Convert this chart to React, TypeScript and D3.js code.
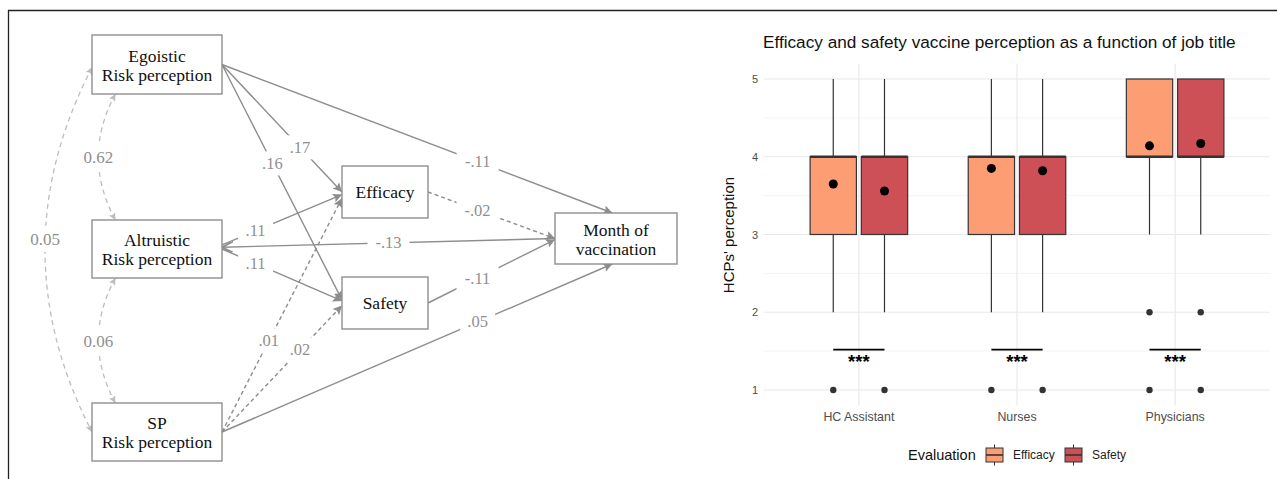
import React from 'react'
import * as d3 from 'd3'

// ---------- left panel: path model ----------
const nodeIds = ['ego', 'alt', 'sp', 'eff', 'saf', 'month']
const nodeLabels = [
    ['Egoistic', 'Risk perception'],
    ['Altruistic', 'Risk perception'],
    ['SP', 'Risk perception'],
    ['Efficacy'],
    ['Safety'],
    ['Month of', 'vaccination']
]

const pathFrom = ['ego', 'ego', 'ego', 'alt', 'alt', 'month', 'eff', 'saf', 'sp', 'sp', 'sp']
const pathTo = ['month', 'eff', 'saf', 'eff', 'saf', 'alt', 'month', 'month', 'month', 'eff', 'saf']
const pathCoef = ['-.11', '.17', '.16', '.11', '.11', '-.13', '-.02', '-.11', '.05', '.01', '.02']
const pathSignificant = [true, true, true, true, true, true, false, true, true, false, false]

const corrFrom = ['ego', 'alt', 'ego']
const corrTo = ['alt', 'sp', 'sp']
const corrCoef = ['0.62', '0.06', '0.05']

// ---------- right panel: boxplot ----------
const jobTitles = ['HC Assistant', 'Nurses', 'Physicians']
const evaluations = ['Efficacy', 'Safety']
// [lower whisker, q1, median, q3, upper whisker]
const efficacyStats = [[2, 3, 4, 4, 5], [2, 3, 4, 4, 5], [3, 4, 4, 5, 5]]
const safetyStats = [[2, 3, 4, 4, 5], [2, 3, 4, 4, 5], [3, 4, 4, 5, 5]]
const efficacyMeans = [3.65, 3.85, 4.14]
const safetyMeans = [3.56, 3.82, 4.17]
const efficacyOutliers = [[1], [1], [1, 2]]
const safetyOutliers = [[1], [1], [1, 2]]
const significance = ['***', '***', '***']
const significanceLevel = 1.5
const yTicks = [1, 2, 3, 4, 5]
const yMinor = [1.5, 2.5, 3.5, 4.5]

// layout of the diagram (x, y, w, h)
const boxLayout: Record<string, number[]> = {
    ego: [92, 35, 130, 59],
    alt: [92, 220, 130, 58],
    sp: [92, 403, 130, 58],
    eff: [342, 166, 86, 52],
    saf: [342, 277, 86, 52],
    month: [555, 213, 122, 51]
}
// anchors: [fromSide, fromFrac, toSide, toFrac, labelT]
const pathAnchors: any[] = [
    ['r', 0.5, 't', 0.47, 0.655],
    ['r', 0.5, 'l', 0.5, 0.65],
    ['r', 0.5, 'l', 0.44, 0.42],
    ['r', 0.43, 'l', 0.55, 0.28],
    ['r', 0.5, 'l', 0.46, 0.28],
    ['l', 0.5, 'r', 0.47, 0.5],
    ['r', 0.5, 'l', 0.5, 0.39],
    ['r', 0.5, 'l', 0.52, 0.39],
    ['r', 0.5, 'b', 0.47, 0.655],
    ['r', 0.5, 'l', 0.62, 0.39],
    ['r', 0.5, 'l', 0.55, 0.65]
]
const corrAnchors: any[] = [
    ['b', 0.18, 't', 0.18, 34, 0.5],
    ['b', 0.18, 't', 0.18, 34, 0.5],
    ['l', 0.55, 'l', 0.5, 94, 0.47]
]

const anchor = (id: string, side: string, f: number): [number, number] => {
    const [x, y, w, h] = boxLayout[id]
    if (side === 'r') return [x + w, y + h * f]
    if (side === 'l') return [x, y + h * f]
    if (side === 't') return [x + w * f, y]
    return [x + w * f, y + h]
}

const SERIF = '"Liberation Serif", "Times New Roman", serif'
const SANS = '"Liberation Sans", Arial, Helvetica, sans-serif'
const lineGray = '#8d8d8d'
const corrGray = '#bdbdbd'

const PathDiagram: React.FC = () => {
    return (
        <g>
            <defs>
                <marker id="arr" viewBox="0 0 10 10" refX="10" refY="5" markerWidth="11" markerHeight="9" markerUnits="userSpaceOnUse" orient="auto">
                    <path d="M0,0 L10,5 L0,10 L2,5 z" fill={lineGray} />
                </marker>
                <marker id="chev" viewBox="0 0 10 10" refX="10" refY="5" markerWidth="11" markerHeight="11" markerUnits="userSpaceOnUse" orient="auto">
                    <path d="M0,0 L10,5 L0,10" fill="none" stroke={lineGray} strokeWidth="1.6" />
                </marker>
                <marker id="carr" viewBox="0 0 10 10" refX="10" refY="5" markerWidth="8" markerHeight="7" markerUnits="userSpaceOnUse" orient="auto-start-reverse">
                    <path d="M0,0 L10,5 L0,10 L2,5 z" fill={corrGray} />
                </marker>
            </defs>

            {corrFrom.map((from, i) => {
                const [s1, f1, s2, f2, bulge, lt] = corrAnchors[i]
                const p0 = anchor(from, s1, f1)
                const p2 = anchor(corrTo[i], s2, f2)
                const c: [number, number] = [(p0[0] + p2[0]) / 2 - bulge, (p0[1] + p2[1]) / 2]
                const p = d3.path()
                p.moveTo(p0[0], p0[1])
                p.quadraticCurveTo(c[0], c[1], p2[0], p2[1])
                const t = lt
                const lx = (1 - t) * (1 - t) * p0[0] + 2 * (1 - t) * t * c[0] + t * t * p2[0]
                const ly = (1 - t) * (1 - t) * p0[1] + 2 * (1 - t) * t * c[1] + t * t * p2[1]
                return (
                    <g key={'c' + i}>
                        <path d={p.toString()} fill="none" stroke={corrGray} strokeWidth={1.3} strokeDasharray="5,4" markerStart="url(#carr)" markerEnd="url(#carr)" />
                        <rect x={lx - 20} y={ly - 13} width={40} height={26} fill="#fff" />
                        <text x={lx} y={ly + 6} textAnchor="middle" fontFamily={SERIF} fontSize={17} fill="#8f8f8f">{corrCoef[i]}</text>
                    </g>
                )
            })}

            {pathFrom.map((from, i) => {
                const [s1, f1, s2, f2, lt] = pathAnchors[i]
                const a = anchor(from, s1, f1)
                const b = anchor(pathTo[i], s2, f2)
                const lx = a[0] + (b[0] - a[0]) * lt
                const ly = a[1] + (b[1] - a[1]) * lt
                const w = pathCoef[i].length * 7 + 14
                return (
                    <g key={'p' + i}>
                        <line x1={a[0]} y1={a[1]} x2={b[0]} y2={b[1]} stroke={lineGray} strokeWidth={1.4}
                            strokeDasharray={pathSignificant[i] ? undefined : '4,3'}
                            markerEnd={pathTo[i] === 'alt' ? 'url(#chev)' : 'url(#arr)'} />
                        <rect x={lx - w / 2} y={ly - 12} width={w} height={24} fill="#fff" />
                        <text x={lx} y={ly + 5.5} textAnchor="middle" fontFamily={SERIF} fontSize={16.5} fill="#8f8f8f">{pathCoef[i]}</text>
                    </g>
                )
            })}

            {nodeIds.map((id, i) => {
                const [x, y, w, h] = boxLayout[id]
                const lines = nodeLabels[i]
                const cx = x + w / 2
                const cy = y + h / 2
                return (
                    <g key={id}>
                        <rect x={x} y={y} width={w} height={h} fill="#fff" stroke="#8f8f8f" strokeWidth={1.4} />
                        {lines.map((l, j) => (
                            <text key={j} x={cx} y={lines.length === 1 ? cy + 6 : cy - 3 + j * 19} textAnchor="middle" fontFamily={SERIF} fontSize={17.5} fill="#111">{l}</text>
                        ))}
                    </g>
                )
            })}
        </g>
    )
}

const effColor = '#FC9D73'
const safColor = '#CC5056'
const dark = '#333333'

const BoxPlot: React.FC = () => {
    const y = d3.scaleLinear().domain([1, 5]).range([390, 79])
    const x = d3.scalePoint().domain(jobTitles).range([764, 1270]).padding(0.6)
    const step = x.step()
    const off = 0.162 * step
    const bw = 0.293 * step
    const panelTop = y(5.2)
    const panelBottom = y(0.8)
    const [left, right] = x.range()

    const series = [
        { stats: efficacyStats, means: efficacyMeans, outliers: efficacyOutliers, color: effColor, dx: -off },
        { stats: safetyStats, means: safetyMeans, outliers: safetyOutliers, color: safColor, dx: off }
    ]

    return (
        <g fontFamily={SANS}>
            {yMinor.map(v => (
                <line key={'m' + v} x1={left} x2={right} y1={y(v)} y2={y(v)} stroke="#f0f0f0" strokeWidth={0.8} />
            ))}
            {yTicks.map(v => (
                <line key={'g' + v} x1={left} x2={right} y1={y(v)} y2={y(v)} stroke="#e8e8e8" strokeWidth={1.1} />
            ))}
            {jobTitles.map(c => (
                <line key={'v' + c} x1={x(c)} x2={x(c)} y1={panelTop} y2={panelBottom} stroke="#e8e8e8" strokeWidth={1.1} />
            ))}

            {series.map((s, si) =>
                jobTitles.map((c, ci) => {
                    const cx = (x(c) as number) + s.dx
                    const [lo, q1, med, q3, hi] = s.stats[ci]
                    return (
                        <g key={si + c}>
                            <line x1={cx} x2={cx} y1={y(q3)} y2={y(hi)} stroke={dark} strokeWidth={1.2} />
                            <line x1={cx} x2={cx} y1={y(q1)} y2={y(lo)} stroke={dark} strokeWidth={1.2} />
                            <rect x={cx - bw / 2} y={y(q3)} width={bw} height={y(q1) - y(q3)} fill={s.color} stroke={dark} strokeWidth={1.2} />
                            <line x1={cx - bw / 2} x2={cx + bw / 2} y1={y(med)} y2={y(med)} stroke={dark} strokeWidth={2.6} />
                            {s.outliers[ci].map(o => (
                                <circle key={o} cx={cx} cy={y(o)} r={3.2} fill={dark} />
                            ))}
                            <circle cx={cx} cy={y(s.means[ci])} r={4.5} fill="#000" />
                        </g>
                    )
                })
            )}

            {jobTitles.map((c, ci) => (
                <g key={'s' + c}>
                    <line x1={(x(c) as number) - off} x2={(x(c) as number) + off} y1={y(significanceLevel) - 1.5} y2={y(significanceLevel) - 1.5} stroke="#000" strokeWidth={1.6} />
                    <text x={x(c)} y={368} textAnchor="middle" fontSize={18.5} fontWeight="bold" fill="#000">{significance[ci]}</text>
                </g>
            ))}

            {yTicks.map(v => (
                <text key={'t' + v} x={758} y={y(v) + 4} textAnchor="end" fontSize={11} fill="#4d4d4d">{v}</text>
            ))}
            {jobTitles.map(c => (
                <text key={'x' + c} x={x(c)} y={420.5} textAnchor="middle" fontSize={12.4} fill="#4d4d4d">{c}</text>
            ))}
            <text transform="translate(734,235) rotate(-90)" textAnchor="middle" fontSize={15} fill="#111">HCPs' perception</text>
            <text x={763} y={48} fontSize={17.2} fill="#111">Efficacy and safety vaccine perception as a function of job title</text>

            <text x={908} y={459.5} fontSize={14.5} fill="#111">Evaluation</text>
            {evaluations.map((e, i) => {
                const kx = i === 0 ? 986 : 1065
                const color = i === 0 ? effColor : safColor
                return (
                    <g key={e}>
                        <line x1={kx + 8.5} x2={kx + 8.5} y1={444.5} y2={465.5} stroke={dark} strokeWidth={1} />
                        <rect x={kx} y={448} width={17} height={14} fill={color} stroke={dark} strokeWidth={1} />
                        <line x1={kx} x2={kx + 17} y1={455} y2={455} stroke={dark} strokeWidth={1.6} />
                        <text x={kx + 27} y={459} fontSize={12} fill="#222">{e}</text>
                    </g>
                )
            })}
        </g>
    )
}

export default function App() {
    return (
        <svg width={1277} height={479} style={{ position: 'fixed', left: 0, top: 0, background: '#fff' }}>
            <rect width={1277} height={479} fill="#fff" />
            <line x1={8} x2={1277} y1={10.5} y2={10.5} stroke="#222" strokeWidth={1.3} />
            <line x1={8.5} x2={8.5} y1={10} y2={479} stroke="#222" strokeWidth={1.3} />
            <PathDiagram />
            <BoxPlot />
        </svg>
    )
}
